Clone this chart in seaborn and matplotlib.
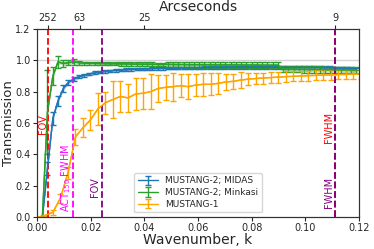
import numpy as np
import pandas as pd
import matplotlib
matplotlib.use('Agg')
import matplotlib.pyplot as plt
import seaborn as sns

# ── Data ────────────────────────────────────────────────
k_m2 = [0.0020, 0.0039, 0.0059, 0.0078, 0.0098, 0.0117, 0.0137, 0.0156, 0.0176, 0.0195,
        0.0215, 0.0234, 0.0254, 0.0273, 0.0293, 0.0312, 0.0332, 0.0351, 0.0371, 0.0390,
        0.0410, 0.0429, 0.0449, 0.0468, 0.0488, 0.0507, 0.0527, 0.0546, 0.0566, 0.0585,
        0.0605, 0.0624, 0.0644, 0.0663, 0.0683, 0.0702, 0.0722, 0.0741, 0.0761, 0.0780,
        0.0800, 0.0819, 0.0839, 0.0858, 0.0878, 0.0897, 0.0917, 0.0936, 0.0956, 0.0975,
        0.0995, 0.1014, 0.1034, 0.1053, 0.1073, 0.1092, 0.1112, 0.1131, 0.1151, 0.1170,
        0.1190]

midas = [0.0, 0.31, 0.63, 0.74, 0.82, 0.86, 0.88, 0.895, 0.905, 0.913,
         0.92, 0.925, 0.93, 0.933, 0.936, 0.938, 0.94, 0.942, 0.944, 0.945,
         0.946, 0.947, 0.948, 0.949, 0.95, 0.95, 0.951, 0.951, 0.952, 0.952,
         0.952, 0.953, 0.953, 0.953, 0.953, 0.954, 0.954, 0.954, 0.954, 0.954,
         0.955, 0.955, 0.955, 0.955, 0.955, 0.955, 0.955, 0.955, 0.955, 0.955,
         0.955, 0.955, 0.954, 0.954, 0.953, 0.953, 0.952, 0.951, 0.95, 0.948,
         0.946]
midas_err = [0.0, 0.04, 0.04, 0.03, 0.02, 0.015, 0.012, 0.01, 0.01, 0.009,
             0.009, 0.008, 0.008, 0.008, 0.008, 0.008, 0.008, 0.008, 0.008, 0.008,
             0.008, 0.008, 0.008, 0.008, 0.008, 0.008, 0.008, 0.008, 0.008, 0.008,
             0.008, 0.008, 0.008, 0.008, 0.008, 0.008, 0.008, 0.008, 0.008, 0.008,
             0.008, 0.008, 0.008, 0.008, 0.008, 0.008, 0.008, 0.008, 0.008, 0.008,
             0.008, 0.008, 0.008, 0.008, 0.008, 0.008, 0.008, 0.008, 0.008, 0.008,
             0.008]

minkasi = [0.0, 0.67, 0.90, 0.99, 0.98, 0.985, 0.99, 0.985, 0.982, 0.981,
           0.98, 0.98, 0.979, 0.978, 0.978, 0.977, 0.977, 0.976, 0.976, 0.975,
           0.975, 0.975, 0.974, 0.974, 0.974, 0.973, 0.973, 0.973, 0.972, 0.972,
           0.972, 0.972, 0.972, 0.971, 0.971, 0.971, 0.971, 0.971, 0.970, 0.970,
           0.970, 0.970, 0.969, 0.969, 0.969, 0.969, 0.945, 0.944, 0.943, 0.943,
           0.942, 0.942, 0.941, 0.941, 0.940, 0.940, 0.939, 0.939, 0.938, 0.938,
           0.937]
minkasi_err = [0.0, 0.27, 0.06, 0.04, 0.02, 0.015, 0.02, 0.012, 0.01, 0.01,
               0.01, 0.01, 0.01, 0.01, 0.01, 0.01, 0.01, 0.012, 0.012, 0.012,
               0.012, 0.012, 0.012, 0.012, 0.015, 0.018, 0.018, 0.018, 0.018, 0.018,
               0.018, 0.018, 0.018, 0.018, 0.018, 0.018, 0.018, 0.018, 0.018, 0.018,
               0.018, 0.018, 0.018, 0.018, 0.018, 0.018, 0.02, 0.02, 0.02, 0.02,
               0.02, 0.02, 0.02, 0.02, 0.02, 0.02, 0.02, 0.02, 0.02, 0.02,
               0.02]

k_m1 = [0.0003, 0.0031, 0.0059, 0.0087, 0.0115, 0.0143, 0.0171, 0.0199, 0.0227, 0.0255,
        0.0283, 0.0311, 0.0339, 0.0367, 0.0395, 0.0423, 0.0451, 0.0479, 0.0507, 0.0535,
        0.0563, 0.0591, 0.0619, 0.0647, 0.0675, 0.0703, 0.0731, 0.0759, 0.0787, 0.0815,
        0.0843, 0.0871, 0.0899, 0.0927, 0.0955, 0.0983, 0.1011, 0.1039, 0.1067, 0.1095,
        0.1123, 0.1151, 0.1179, 0.1207]
m1 = [0.0, 0.01, 0.03, 0.12, 0.28, 0.51, 0.57, 0.62, 0.69, 0.73,
      0.75, 0.77, 0.76, 0.785, 0.79, 0.80, 0.82, 0.828, 0.832, 0.838,
      0.832, 0.842, 0.847, 0.847, 0.853, 0.862, 0.866, 0.874, 0.880, 0.884,
      0.887, 0.890, 0.893, 0.896, 0.898, 0.900, 0.902, 0.904, 0.906, 0.907,
      0.909, 0.910, 0.911, 0.912]
m1_err = [0.0, 0.005, 0.015, 0.03, 0.04, 0.05, 0.06, 0.065, 0.10, 0.07,
          0.115, 0.10, 0.09, 0.105, 0.10, 0.11, 0.085, 0.08, 0.09, 0.075,
          0.08, 0.07, 0.075, 0.07, 0.065, 0.05, 0.05, 0.05, 0.04, 0.035,
          0.035, 0.035, 0.035, 0.033, 0.033, 0.033, 0.032, 0.032, 0.032, 0.030,
          0.030, 0.030, 0.028, 0.028]

arcsec_ticks = [252, 63, 25, 9]

# ── Plot ─────────────────────────────────────────────────
sns.set_style('ticks', {'axes.edgecolor': '0.2'})
plt.rcParams['font.family'] = ['DejaVu Sans']
pal = sns.color_palette('tab10')
c_mid, c_mink, c_m1 = pal[0], pal[2], 'orange'

fig, ax = plt.subplots(figsize=(3.74, 2.49), dpi=100)
fig.subplots_adjust(left=0.099, right=0.96, bottom=0.1285, top=0.8835)

ax.axhline(1.0, color='lightgrey', lw=1, zorder=0)

series = [(k_m2, midas, midas_err, c_mid, 'MUSTANG-2; MIDAS', True),
          (k_m2, minkasi, minkasi_err, c_mink, 'MUSTANG-2; Minkasi', True),
          (k_m1, m1, m1_err, c_m1, 'MUSTANG-1', False)]
for kk, vv, ee, col, lab, band in series:
    df = pd.DataFrame({'k': kk, 'T': vv})
    sns.lineplot(data=df, x='k', y='T', ax=ax, color=col, lw=1, legend=False)
    if band:
        ax.fill_between(kk, np.array(vv) - 0.012, np.array(vv) + 0.012,
                        color=col, alpha=0.3, lw=0)
    ax.errorbar(kk, vv, yerr=ee, color=col, lw=1, elinewidth=1,
                capsize=2.5, capthick=1, label=lab)

# vertical markers
ax.axvline(1/252, color='red', ls='--', lw=1.3)
ax.axvline(1/9, color='red', ls='--', lw=1.3)
ax.axvline(0.0134, color='magenta', ls='--', lw=1.3)
ax.axvline(0.0241, color='purple', ls='--', lw=1.3)
ax.axvline(1/9, color='purple', ls='--', lw=1.3)

ax.text(0.0021, 0.59, 'FOV', color='red', rotation=90, ha='center', va='center', fontsize=7)
ax.text(0.1088, 0.57, 'FWHM', color='red', rotation=90, ha='center', va='center', fontsize=7)
ax.text(0.0107, 0.25, r'ACT$_{150}$ FWHM', color='magenta', rotation=90,
        ha='center', va='center', fontsize=7)
ax.text(0.0216, 0.19, 'FOV', color='purple', rotation=90, ha='center', va='center', fontsize=7)
ax.text(0.1088, 0.155, 'FWHM', color='purple', rotation=90, ha='center', va='center', fontsize=7)

ax.set_xlim(0, 0.12)
ax.set_ylim(0, 1.2)
ax.set_xticks([0.0, 0.02, 0.04, 0.06, 0.08, 0.10, 0.12])
ax.set_yticks([0.0, 0.2, 0.4, 0.6, 0.8, 1.0, 1.2])
ax.tick_params(labelsize=7, length=3, width=0.8, pad=1.5)
ax.set_xlabel('Wavenumber, k', fontsize=10, labelpad=0)
ax.set_ylabel('Transmission', fontsize=9.5)
ax.yaxis.set_label_coords(-0.068, 0.5)

ax.legend(loc='lower center', fontsize=6.5, frameon=True, handlelength=2.2,
          borderpad=0.4, labelspacing=0.3)

# top axis in arcseconds
ax2 = ax.twiny()
ax2.set_xlim(ax.get_xlim())
ax2.set_xticks([1/a for a in arcsec_ticks])
ax2.set_xticklabels([str(a) for a in arcsec_ticks])
ax2.tick_params(labelsize=7, length=3, width=0.8, pad=1)
ax2.set_xlabel('Arcseconds', fontsize=10, labelpad=2)

plt.savefig('out.png', dpi=100)
